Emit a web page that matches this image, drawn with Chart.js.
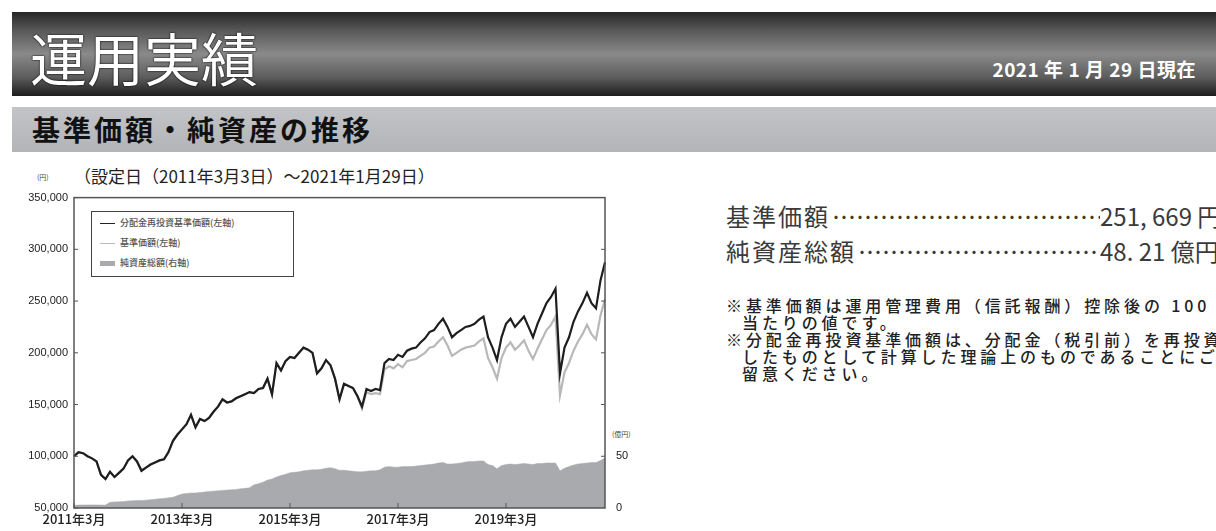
<!DOCTYPE html>
<html lang="ja">
<head>
<meta charset="utf-8">
<script src="https://cdn.jsdelivr.net/npm/chart.js@4"></script>
<style>
  html, body { margin:0; padding:0; background:#fff; }
  body { width:1216px; height:531px; position:relative; overflow:hidden; font-family:"Noto Sans CJK JP","Noto Sans",sans-serif; }
  .hdr { position:absolute; left:12px; top:12px; width:1204px; height:84px;
    background: linear-gradient(to bottom, #262626 0%, #585858 22%, #8a8a8a 50%, #5c5c5c 78%, #1c1c1c 100%); }
  .hdr .title { position:absolute; left:18px; top:16px; font-size:57px; line-height:57px; color:#fff; font-weight:400; text-shadow:0 0 2px #000, 0 0 1px #000; white-space:nowrap; }
  .hdr .date { position:absolute; right:20px; top:46px; font-size:19px; line-height:22px; color:#fff; font-weight:700; white-space:nowrap; letter-spacing:0.5px; }
  .sub { position:absolute; left:12px; top:107px; width:1204px; height:45px; background:linear-gradient(to bottom,#c3c4c7 0%,#b3b4b7 100%); }
  .sub .t { position:absolute; left:20px; top:6px; font-size:28px; line-height:32px; font-weight:700; color:#111; letter-spacing:3px; white-space:nowrap; }
  .cap { position:absolute; left:74px; top:166px; font-size:17px; line-height:20px; color:#222; white-space:nowrap; }
  .unit { position:absolute; font-size:7px; color:#444; white-space:nowrap; }
  .legend { position:absolute; left:91px; top:211px; width:201px; height:64px; border:1.5px solid #444; background:#fff; }
  .legend .row { position:absolute; left:8px; font-size:9px; line-height:10px; color:#555; white-space:nowrap; font-weight:500; }
  .legend .sw { display:inline-block; width:15px; vertical-align:middle; margin-right:5px; }
  .stat { position:absolute; left:726px; font-size:24px; line-height:28px; color:#3a3a3a; white-space:nowrap; letter-spacing:2px; }
  .lead { position:absolute; font-size:24px; line-height:28px; color:#3a3a3a; white-space:nowrap; overflow:hidden; letter-spacing:0; }
  .note { position:absolute; left:726px; font-size:16px; line-height:17px; color:#222; white-space:nowrap; letter-spacing:3.9px; font-weight:500; }
  #wrap { position:absolute; left:0; top:180px; width:660px; height:351px; }
</style>
</head>
<body>
<div class="hdr">
  <div class="title">運用実績</div>
  <div class="date">2021 年 1 月 29 日現在</div>
</div>
<div class="sub"><div class="t">基準価額・純資産の推移</div></div>

<div class="unit" style="left:37px; top:172px;">(円)</div>
<div class="cap">（設定日（2011年3月3日）～2021年1月29日）</div>
<div class="unit" style="left:612px; top:429px;">(億円)</div>

<div id="wrap"><canvas id="c" width="660" height="351"></canvas></div>

<div class="legend">
  <div class="row" style="top:6px;"><span class="sw" style="border-top:1.5px solid #222;"></span>分配金再投資基準価額(左軸)</div>
  <div class="row" style="top:26px;"><span class="sw" style="border-top:1.5px solid #bbb;"></span>基準価額(左軸)</div>
  <div class="row" style="top:46px;"><span class="sw" style="height:5px; background:#a9aaad;"></span>純資産総額(右軸)</div>
</div>

<div class="stat" style="top:202px;">基準価額</div>
<div class="lead" style="left:832px; top:202px; width:268px;">…………………………………………</div>
<div class="stat" style="top:202px; left:1100px; letter-spacing:0;">251, 669 円</div>
<div class="stat" style="top:237px;">純資産総額</div>
<div class="lead" style="left:858px; top:237px; width:242px;">…………………………………………</div>
<div class="stat" style="top:237px; left:1100px; letter-spacing:0;">48. 21 億円</div>

<div class="note" style="top:297px;">※基準価額は運用管理費用（信託報酬）控除後の 100 口</div>
<div class="note" style="top:314px; left:742px;">当たりの値です。</div>
<div class="note" style="top:331px;">※分配金再投資基準価額は、分配金（税引前）を再投資</div>
<div class="note" style="top:348px; left:742px;">したものとして計算した理論上のものであることにご</div>
<div class="note" style="top:365px; left:742px;">留意ください。</div>

<script>
// ---- data ----
const startYear = 2011, startMonth = 3, monthCount = 119;
const months = [];
for (let i = 0; i < monthCount; i++) {
  const t = (startMonth - 1) + i;
  months.push((startYear + Math.floor(t / 12)) + '年' + ((t % 12) + 1) + '月');
}
const xTickLabels = ['2011年3月', '2013年3月', '2015年3月', '2017年3月', '2019年3月'];
const yTickValues = [50000, 100000, 150000, 200000, 250000, 300000, 350000];
const y2TickLabels = [0, 50];

// 分配金再投資基準価額 (円, 左軸)
const navReinvested = [
  100000,104000,103000,100000,98000,95000,82000,78000,85000,80000,
  84000,88000,96000,100000,95000,86000,89000,92000,94000,96000,
  97000,104000,115000,121000,126000,131000,140000,128000,136000,134000,
  137000,143000,148000,155000,152000,153000,156000,158000,160000,162000,
  161000,165000,166000,175000,160000,190000,183000,192000,196000,195000,
  200000,205000,203000,200000,180000,185000,193000,188000,175000,155000,
  170000,168000,166000,158000,148000,165000,163000,165000,164000,190000,
  194000,193000,198000,196000,202000,204000,205000,210000,214000,220000,
  222000,228000,233000,225000,215000,219000,222000,225000,226000,228000,
  232000,235000,215000,205000,193000,215000,228000,233000,225000,230000,
  235000,225000,215000,228000,238000,248000,254000,262000,180000,205000,
  215000,230000,240000,248000,258000,248000,243000,270000,287600
];
// 基準価額 (円, 左軸)
const nav = [
  100000,104000,103000,100000,98000,95000,82000,78000,85000,80000,
  84000,88000,96000,100000,95000,86000,89000,92000,94000,96000,
  97000,104000,115000,121000,126000,131000,140000,128000,136000,134000,
  137000,143000,148000,155000,152000,153000,156000,158000,160000,162000,
  161000,165000,166000,175000,160000,190000,183000,192000,196000,195000,
  200000,205000,203000,200000,180000,185000,193000,188000,175000,155000,
  170000,168000,166000,158000,146000,162000,160000,161000,160000,184000,
  187000,185000,189000,186000,192000,193000,194000,197000,200000,205000,
  206000,211000,215000,207000,197000,200000,203000,205000,206000,207000,
  211000,214000,195000,186000,175000,195000,205000,210000,203000,207000,
  212000,202000,194000,204000,213000,222000,227000,235000,159000,181000,
  190000,202000,211000,218000,227000,218000,213000,236000,251669
];
// 純資産総額 (億円, 右軸)
const netAssets = [
  2.5,2.8,3,3,3,3,2.8,2.8,5.5,5.8,
  6,6.3,6.8,7,7.2,7.3,7.6,8,8.5,9,
  9.3,9.8,10.5,12,13.5,14,14.5,14.5,15,15.5,
  16,16.3,16.6,17,17.3,17.6,18,18.5,19,19.5,
  22.5,23.5,25,27,28,30,31.5,32.5,34,34.5,
  35,36,36.5,37,37,37.5,38.5,39,38,36.5,
  36.5,36,35.5,35,35,35.5,36,36,37,39.5,
  40,39.5,39.5,40,40,40,40.5,41,41.5,42,
  42.5,43.5,44,42.5,42.5,43,43.5,44.5,45,45,
  45.5,45.5,42,41,38,41,42,42.5,42,42.5,
  43,42.5,42,43,43,43.5,43.5,43.5,36,38.5,
  40,41.5,42.5,43,43.5,44,44,46,48.21
];

// ---- frame + inner tick marks ----
const framePlugin = {
  id: 'frame',
  afterDatasetsDraw(chart) {
    const { ctx, chartArea: a, scales } = chart;
    ctx.save();
    ctx.strokeStyle = '#555';
    ctx.lineWidth = 1.5;
    ctx.strokeRect(a.left, a.top, a.right - a.left, a.bottom - a.top);
    ctx.lineWidth = 1;
    ctx.beginPath();
    yTickValues.forEach(v => {
      const y = scales.y.getPixelForValue(v);
      ctx.moveTo(a.left, y); ctx.lineTo(a.left + 4, y);
    });
    for (let v = 50; v < 300; v += 50) {
      const y = scales.y2.getPixelForValue(v);
      ctx.moveTo(a.right, y); ctx.lineTo(a.right - 4, y);
    }
    xTickLabels.forEach(l => {
      const x = scales.x.getPixelForValue(months.indexOf(l));
      ctx.moveTo(x, a.bottom); ctx.lineTo(x, a.bottom - 5);
    });
    ctx.stroke();
    ctx.restore();
  }
};

const numFont = { family: '"Liberation Sans", Arial, sans-serif', size: 11 };

new Chart(document.getElementById('c'), {
  type: 'line',
  data: {
    labels: months,
    datasets: [
      { label: '分配金再投資基準価額(左軸)', data: navReinvested, yAxisID: 'y', order: 0,
        borderColor: '#1e1e1e', borderWidth: 2.2, pointRadius: 0, tension: 0, fill: false },
      { label: '基準価額(左軸)', data: nav, yAxisID: 'y', order: 1,
        borderColor: '#b8b8b8', borderWidth: 2.2, pointRadius: 0, tension: 0, fill: false },
      { label: '純資産総額(右軸)', data: netAssets, yAxisID: 'y2', order: 2,
        borderColor: '#a9aaad', backgroundColor: '#a9aaad', borderWidth: 0.5, pointRadius: 0, tension: 0, fill: 'origin' }
    ]
  },
  options: {
    responsive: false,
    animation: false,
    layout: { padding: { top: 11, left: 0, right: 0, bottom: 0 } },
    plugins: { legend: { display: false }, tooltip: { enabled: false } },
    scales: {
      x: {
        type: 'category', offset: false,
        grid: { display: false, drawTicks: false }, border: { display: false },
        ticks: {
          autoSkip: false, maxRotation: 0, minRotation: 0, padding: 3, color: '#222',
          font: { family: '"Noto Sans CJK JP", sans-serif', size: 13, weight: '500' },
          callback: function (v, i) { const l = months[i]; return xTickLabels.includes(l) ? l : ''; }
        },
        afterFit: s => { s.height = 23; }
      },
      y: {
        position: 'left', min: 50000, max: 350000,
        grid: { display: false, drawTicks: false }, border: { display: false },
        ticks: { stepSize: 50000, padding: 6, color: '#222', font: numFont,
          callback: v => yTickValues.includes(v) ? v.toLocaleString('en-US') : '' },
        afterFit: s => { s.width = 74; }
      },
      y2: {
        position: 'right', min: 0, max: 300,
        grid: { display: false, drawTicks: false }, border: { display: false },
        ticks: { stepSize: 50, padding: 11, color: '#222', font: numFont,
          callback: v => y2TickLabels.includes(v) ? String(v) : '' },
        afterFit: s => { s.width = 55; }
      }
    }
  },
  plugins: [framePlugin]
});
</script>
</body>
</html>
